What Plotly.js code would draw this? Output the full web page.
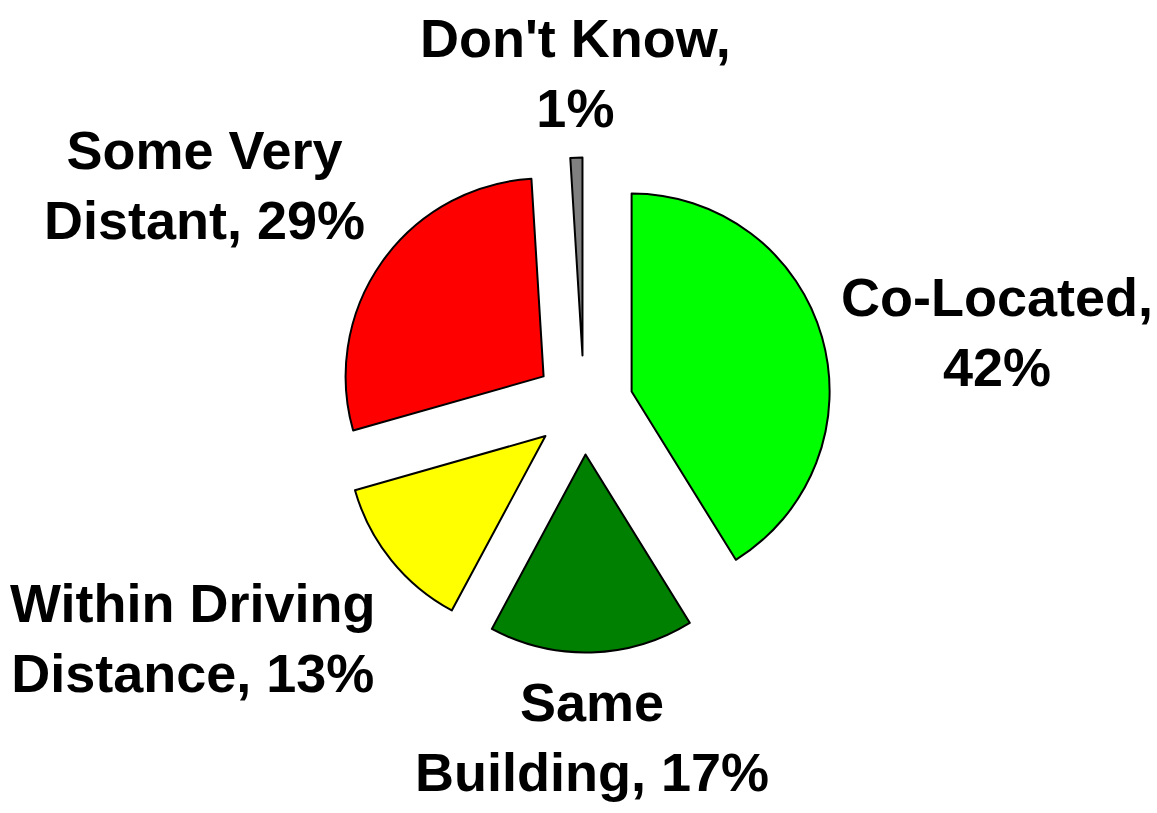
<!DOCTYPE html>
<html>
<head>
<meta charset="utf-8">
<script src="https://cdn.plot.ly/plotly-3.0.1.min.js"></script>
<style>html,body{margin:0;padding:0;background:#fff;}#chart{width:1157px;height:813px;}</style>
</head>
<body>
<div id="chart"></div>
<script>
const categories = ["Co-Located", "Same<br>Building", "Within Driving<br>Distance", "Some Very<br>Distant", "Don't Know"];
const values = [42, 17, 13, 29, 1];
const separators = ["<br>", " ", " ", " ", "<br>"];
const colors = ["#00FF00", "#008000", "#FFFF00", "#FF0000", "#808080"];

const text = categories.map((c, i) => c + "," + separators[i] + values[i] + "%");

const W = 1157, H = 813;
const cx = 584, cy = 405, box = 495;
const pull = 0.25;
const font = {family: "Liberation Sans, Arial, sans-serif", size: 54, color: "#000", weight: "bold"};

const trace = {
  type: "pie",
  labels: categories,
  values: values,
  text: text,
  textinfo: "none",
  sort: false,
  direction: "clockwise",
  rotation: 0,
  pull: pull,
  marker: {colors: colors, line: {color: "#000", width: 2}},
  automargin: false,
  domain: {
    x: [(cx - box / 2) / W, (cx + box / 2) / W],
    y: [(H - cy - box / 2) / H, (H - cy + box / 2) / H]
  },
  hoverinfo: "none"
};

// label placement derived from the slice angles (outside end of each slice)
const total = values.reduce((a, b) => a + b, 0);
const r = box / 2 / (1 + pull);
const gap = 18;
let acc = 0;
const annotations = values.map((v, i) => {
  const mid = (acc + v / 2) / total * 2 * Math.PI;
  acc += v;
  const s = Math.sin(mid), c = Math.cos(mid);
  const dist = r * (1 + pull) + gap;
  const px = cx + s * dist, py = cy - c * dist;
  return {
    x: px / W, y: 1 - py / H, xref: "paper", yref: "paper",
    text: text[i], showarrow: false, align: "center",
    xanchor: s > 0.15 ? "left" : (s < -0.15 ? "right" : "center"),
    yanchor: c > 0.5 ? "bottom" : (c < -0.5 ? "top" : "middle"),
    font: font
  };
});

Plotly.newPlot("chart", [trace], {
  width: W, height: H,
  margin: {l: 0, r: 0, t: 0, b: 0},
  showlegend: false,
  paper_bgcolor: "#fff",
  annotations: annotations
}, {displayModeBar: false, staticPlot: true});
</script>
</body>
</html>
